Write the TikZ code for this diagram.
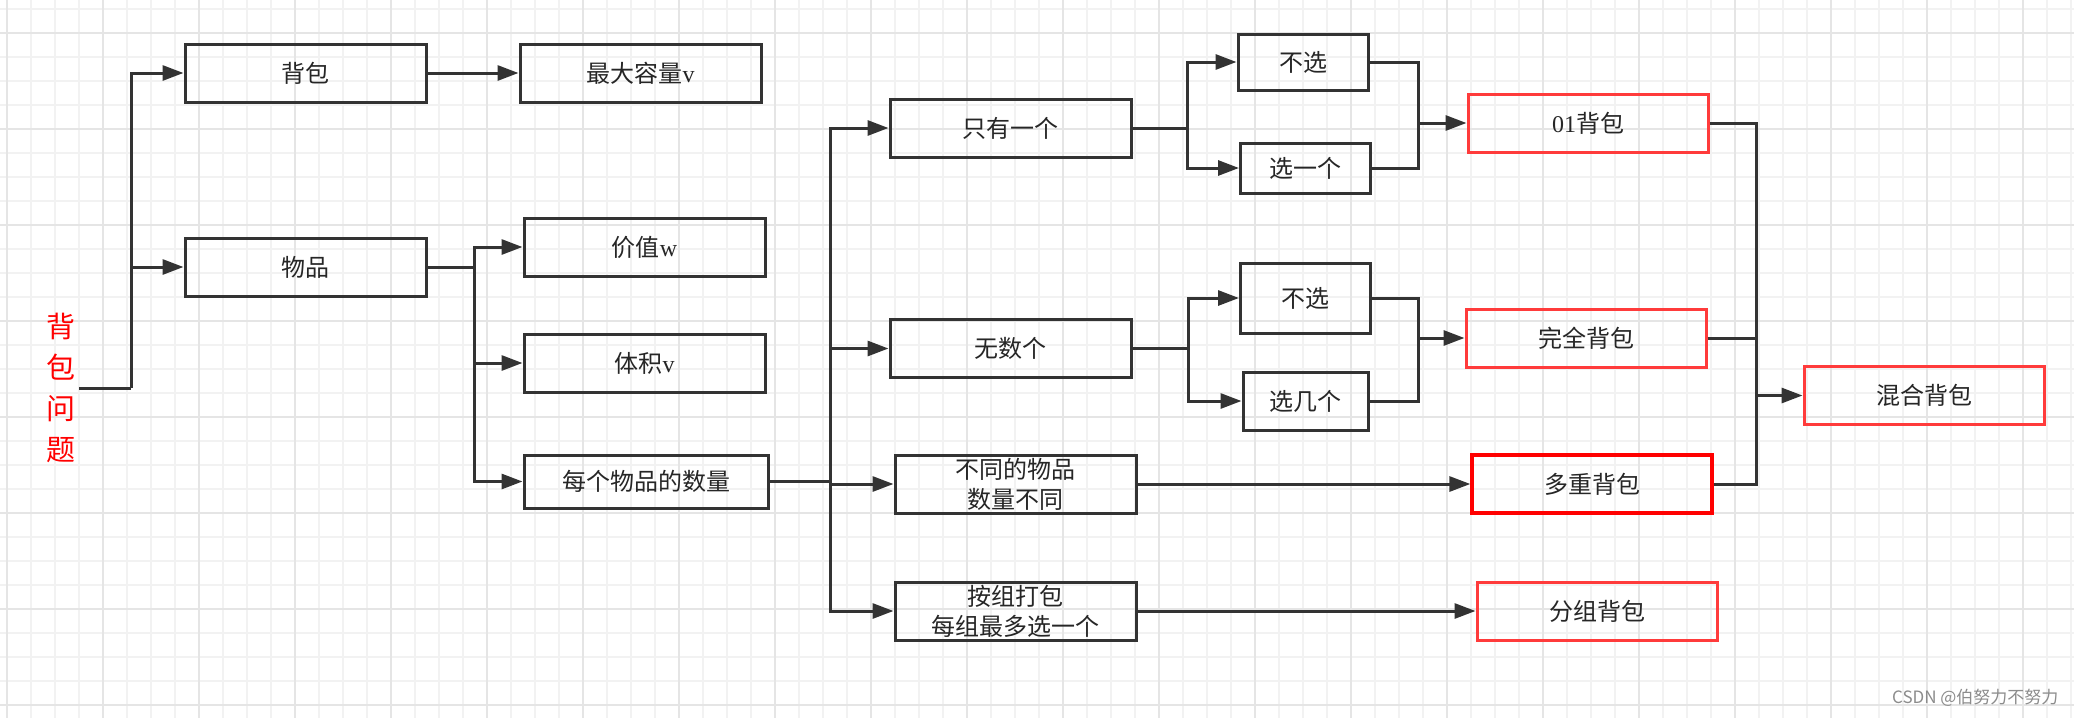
\documentclass[tikz,border=0pt]{standalone}
\usepackage{fontspec}
\setmainfont{Liberation Serif}
\newfontfamily\cjk{Noto Sans CJK SC}
\usepackage{xcolor}
\usetikzlibrary{arrows.meta,positioning,calc}
\definecolor{linegray}{HTML}{333333}
\definecolor{boxred}{HTML}{FF3B3B}
\definecolor{gridminor}{HTML}{F2F2F2}
\definecolor{gridmajor}{HTML}{E5E5E5}
\newcommand{\lat}[1]{{\rmfamily #1}}

\begin{document}
\begin{tikzpicture}[x=1pt,y=-1pt,
    box/.style={draw=linegray, line width=3pt, minimum width=241pt, minimum height=58pt,
        inner sep=0pt, align=center, text=black!85, font=\fontsize{24}{30}\selectfont\cjk},
    redbox/.style={box, draw=boxred},
    smallbox/.style={box, minimum width=130pt},
    ln/.style={draw=linegray, line width=3pt},
    arr/.style={ln, -{Triangle[length=21pt,width=15pt]}}]
    \useasboundingbox (0,0) rectangle (2074,718);
    % grid paper
    \fill[white] (0,0) rectangle (2074,718);
    \foreach \x in {7,31,...,2074} \draw[gridminor, line width=1.5pt] (\x,0) -- (\x,718);
    \foreach \y in {9,33,...,718} \draw[gridminor, line width=1.5pt] (0,\y) -- (2074,\y);
    \foreach \x in {7,103,...,2074} \draw[gridmajor, line width=2pt] (\x,0) -- (\x,718);
    \foreach \y in {33,129,...,718} \draw[gridmajor, line width=2pt] (0,\y) -- (2074,\y);

    % nodes
    \node[text=red, align=center, font=\fontsize{29}{41}\selectfont\cjk] (title) at (61,388) {背\\包\\问\\题};
    \node[box] (bag) at (305.5,73) {背包};
    \node[box] (cap) at (640.5,73) {最大容量\lat{v}};
    \node[box] (item) at (305.5,267) {物品};
    \node[box] (val) at (644.5,247) {价值\lat{w}};
    \node[box] (vol) at (644.5,363) {体积\lat{v}};
    \node[box, minimum width=244pt, minimum height=53pt] (num) at (646,481.5) {每个物品的数量};
    \node[box] (one) at (1010.5,128) {只有一个};
    \node[box] (inf) at (1010.5,348.5) {无数个};
    \node[box] (multi) at (1015.5,484) {不同的物品\\数量不同};
    \node[box] (group) at (1015.5,611) {按组打包\\每组最多选一个};
    \node[smallbox, minimum height=56pt] (no1) at (1303,62) {不选};
    \node[smallbox, minimum height=50pt] (yes1) at (1305.5,168) {选一个};
    \node[smallbox, minimum height=70pt] (no2) at (1305.5,298) {不选};
    \node[smallbox, minimum width=125pt] (some2) at (1305.5,401) {选几个};
    \node[redbox, minimum width=240pt] (zo) at (1588,123) {\lat{01}背包};
    \node[redbox, minimum width=240pt] (comp) at (1586,338) {完全背包};
    \node[redbox, minimum width=240pt, draw=red, line width=3.3pt] (mult) at (1592,484) {多重背包};
    \node[redbox, minimum width=240pt] (grp) at (1597,611) {分组背包};
    \node[redbox, minimum width=240pt] (mix) at (1924,395.5) {混合背包};
    \node[anchor=east, text=black!45, font=\fontsize{17}{20}\selectfont\cjk] (mark) at (2062,698) {CSDN @伯努力不努力};

    % junctions
    \coordinate (j1) at (131,388);
    \coordinate (j2) at (474,267);
    \coordinate (j3) at (830,481.5);
    \coordinate (j4) at (1187,128);
    \coordinate (j5) at (1188,348.5);
    \coordinate (j6) at (1418,123);
    \coordinate (j7) at (1418,338);
    \coordinate (j8) at (1756,395.5);

    % connectors
    \draw[ln] (title.east) -- (j1);
    \draw[arr] (j1) |- (bag.west);
    \draw[arr] (j1) |- (item.west);
    \draw[arr] (bag) -- (cap);
    \draw[ln] (item.east) -- (j2);
    \foreach \n in {val,vol,num} \draw[arr] (j2) |- (\n.west);
    \draw[ln] (num.east) -- (j3);
    \foreach \n in {one,inf,multi,group} \draw[arr] (j3) |- (\n.west);
    \draw[ln] (one.east) -- (j4);
    \draw[arr] (j4) |- (no1.west);
    \draw[arr] (j4) |- (yes1.west);
    \draw[ln] (inf.east) -- (j5);
    \draw[arr] (j5) |- (no2.west);
    \draw[arr] (j5) |- (some2.west);
    \draw[ln] (no1.east) -| (j6) |- (yes1.east);
    \draw[arr] (j6) -- (zo.west);
    \draw[ln] (no2.east) -| (j7) |- (some2.east);
    \draw[arr] (j7) -- (comp.west);
    \draw[arr] (multi) -- (mult);
    \draw[arr] (group) -- (grp);
    \draw[ln] (zo.east) -| (j8);
    \draw[ln] (comp.east) -| (j8);
    \draw[ln] (mult.east) -| (j8);
    \draw[arr] (j8) -- (mix.west);
\end{tikzpicture}
\end{document}
